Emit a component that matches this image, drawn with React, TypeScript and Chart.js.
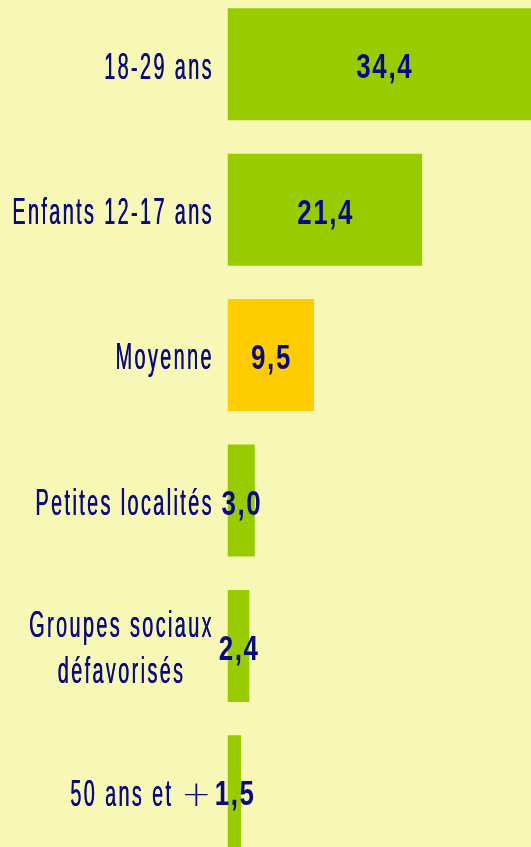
import React, { useEffect, useRef } from "react";
import { Chart, registerables } from "chart.js";

Chart.register(...registerables);

const categories: string[][] = [
  ["18-29 ans"],
  ["Enfants 12-17 ans"],
  ["Moyenne"],
  ["Petites localités"],
  ["Groupes sociaux", "défavorisés"],
  ["50 ans et +"],
];
const values: number[] = [34.4, 21.4, 9.5, 3.0, 2.4, 1.5];
const valueLabels: string[] = ["34,4", "21,4", "9,5", "3,0", "2,4", "1,5"];
const highlight = "Moyenne";

const BG = "#F7F8B5";
const GREEN = "#99CC00";
const GOLD = "#FFCC00";
const NAVY = "#0A0A80";

type Style = { font: string; sx: number; ls: number; bold: number };

function runWidth(ctx: CanvasRenderingContext2D, text: string, st: Style, plus: Style) {
  const chars = Array.from(text);
  let w = 0;
  chars.forEach((c, i) => {
    const s = c === "+" ? plus : st;
    ctx.font = s.font;
    w += ctx.measureText(c).width * s.sx;
    if (i < chars.length - 1) w += st.ls;
  });
  return w;
}

function drawRun(
  ctx: CanvasRenderingContext2D,
  text: string,
  left: number,
  baseline: number,
  st: Style,
  plus: Style
) {
  const chars = Array.from(text);
  let x = left;
  ctx.textAlign = "left";
  ctx.textBaseline = "alphabetic";
  chars.forEach((c, i) => {
    const s = c === "+" ? plus : st;
    ctx.font = s.font;
    const w = ctx.measureText(c).width * s.sx;
    ctx.save();
    ctx.translate(x - s.bold / 2, baseline);
    ctx.scale(s.sx, 1);
    ctx.fillText(c, 0, 0);
    if (s.bold > 0) ctx.fillText(c, s.bold / s.sx, 0);
    ctx.restore();
    x += w;
    if (i < chars.length - 1) x += st.ls;
  });
}

export default function App() {
  const ref = useRef<HTMLCanvasElement | null>(null);

  useEffect(() => {
    const canvas = ref.current;
    if (!canvas) return;

    const labelPlugin = {
      id: "customLabels",
      afterDatasetsDraw(chart: any) {
        const ctx = chart.ctx as CanvasRenderingContext2D;
        const yScale = chart.scales.y;
        const meta = chart.getDatasetMeta(0);
        ctx.save();
        ctx.fillStyle = NAVY;
        const size = 36;
        const cap = size * 0.716;
        const lineGap = 46;
        const labelStyle: Style = {
          font: `${size}px "Liberation Sans", Arial, sans-serif`,
          sx: 0.55,
          ls: 2.4,
          bold: 0.4,
        };
        const plusStyle: Style = {
          font: `200 36px "DejaVu Sans", sans-serif`,
          sx: 1,
          ls: 2.4,
          bold: 0,
        };
        categories.forEach((lines, i) => {
          const y = yScale.getPixelForValue(i) + 1.5;
          const widths = lines.map((l) => runWidth(ctx, l, labelStyle, plusStyle));
          const W = Math.max(...widths);
          const cx = 211.5 - W / 2;
          const n = lines.length;
          lines.forEach((line, j) => {
            const by = y - ((n - 1) * lineGap) / 2 + j * lineGap + cap / 2;
            drawRun(ctx, line, cx - widths[j] / 2, by, labelStyle, plusStyle);
          });
        });
        const vsize = 35;
        const vcap = vsize * 0.716;
        const valStyle: Style = {
          font: `bold ${vsize}px "Liberation Sans", Arial, sans-serif`,
          sx: 0.74,
          ls: 1.6,
          bold: 0,
        };
        meta.data.forEach((bar: any, i: number) => {
          const x = (bar.base + bar.x) / 2;
          const y = bar.y + 1.5 + vcap / 2;
          const w = runWidth(ctx, valueLabels[i], valStyle, valStyle);
          drawRun(ctx, valueLabels[i], x - w / 2, y, valStyle, valStyle);
        });
        ctx.restore();
      },
    };

    const chart = new Chart(canvas, {
      type: "bar",
      data: {
        labels: categories.map((c) => c.join(" ")),
        datasets: [
          {
            data: values,
            backgroundColor: categories.map((c) =>
              c.join(" ") === highlight ? GOLD : GREEN
            ),
            borderWidth: 0,
            barPercentage: 0.88,
            categoryPercentage: 0.875,
          },
        ],
      },
      options: {
        indexAxis: "y",
        responsive: false,
        maintainAspectRatio: false,
        animation: false,
        layout: { padding: { left: 227.5, right: 0, top: 0.6, bottom: 0 } },
        plugins: {
          legend: { display: false },
          tooltip: { enabled: false },
          title: { display: false },
        },
        scales: {
          x: { display: false, min: 0, max: 36, grid: { display: false } },
          y: { display: false, grid: { display: false } },
        },
      },
      plugins: [labelPlugin],
    });

    return () => chart.destroy();
  }, []);

  return (
    <div
      style={{
        position: "fixed",
        left: 0,
        top: 0,
        width: 531,
        height: 847,
        overflow: "hidden",
        background: BG,
      }}
    >
      <canvas
        ref={ref}
        width={555}
        height={873}
        style={{ position: "absolute", left: 0, top: -9, width: 555, height: 873 }}
      />
    </div>
  );
}
